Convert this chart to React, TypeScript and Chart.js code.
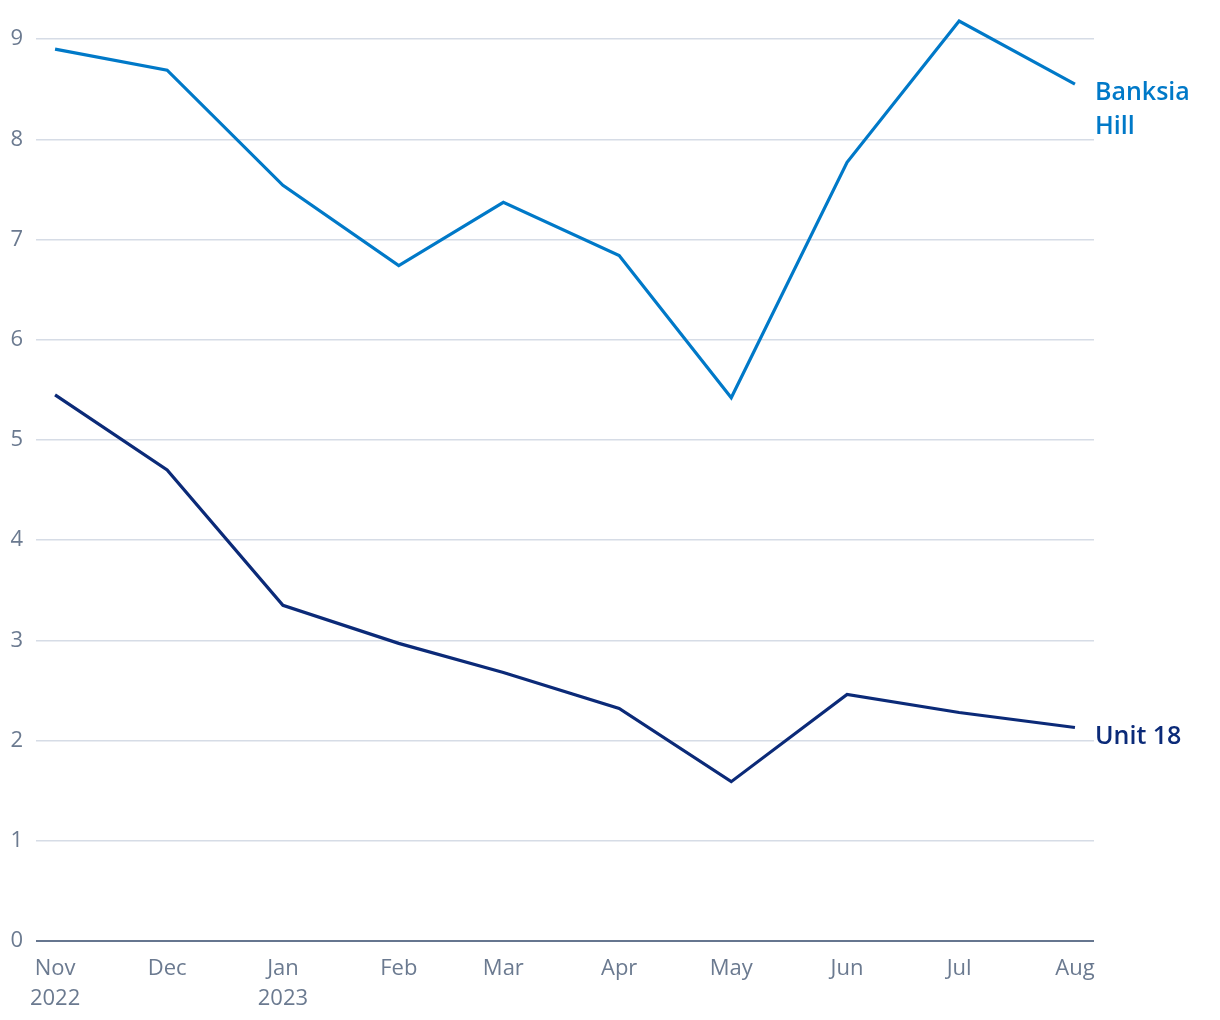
import React, { useEffect, useRef } from "react";
import { Chart, registerables } from "chart.js";

Chart.register(...registerables);

const monthDates = [
  "2022-11-01", "2022-12-01", "2023-01-01", "2023-02-01", "2023-03-01",
  "2023-04-01", "2023-05-01", "2023-06-01", "2023-07-01", "2023-08-01",
];
const monthLabels = ["Nov", "Dec", "Jan", "Feb", "Mar", "Apr", "May", "Jun", "Jul", "Aug"];
const yearLabels = ["2022", "", "2023", "", "", "", "", "", "", ""];
const banksiaHill = [8.9, 8.69, 7.54, 6.74, 7.37, 6.84, 5.42, 7.77, 9.18, 8.55];
const unit18 = [5.45, 4.7, 3.35, 2.97, 2.68, 2.32, 1.59, 2.46, 2.28, 2.13];
const yTicks = [0, 1, 2, 3, 4, 5, 6, 7, 8, 9];
const seriesNames = [["Banksia", "Hill"], ["Unit 18"]];

const BLUE = "#0079c8";
const NAVY = "#0b2a78";
const TICK = "#6b7a90";
const DAY = 86400000;

const toMs = (s: string) => Date.parse(s + "T00:00:00Z");

export default function App() {
  const ref = useRef<HTMLCanvasElement>(null);
  useEffect(() => {
    if (!ref.current) return;
    const xs = monthDates.map(toMs);
    const endLabels = {
      id: "endLabels",
      afterDatasetsDraw(chart: any) {
        const ctx = chart.ctx;
        ctx.save();
        chart.data.datasets.forEach((ds: any, i: number) => {
          const meta = chart.getDatasetMeta(i);
          const last = meta.data[meta.data.length - 1];
          const names = seriesNames[i];
          ctx.font = "600 25px 'Open Sans', sans-serif";
          ctx.fillStyle = ds.borderColor;
          ctx.textAlign = "left";
          ctx.textBaseline = "middle";
          names.forEach((n: string, k: number) => {
            ctx.fillText(n, chart.chartArea.right + 1, last.y + 9 + k * 34);
          });
        });
        ctx.restore();
      },
    };
    const chart = new Chart(ref.current, {
      type: "line",
      data: {
        datasets: [
          {
            label: "Banksia Hill",
            data: xs.map((x, i) => ({ x, y: banksiaHill[i] })),
            borderColor: BLUE,
            borderWidth: 3.2,
            pointRadius: 0,
            tension: 0,
            borderJoinStyle: "miter",
          },
          {
            label: "Unit 18",
            data: xs.map((x, i) => ({ x, y: unit18[i] })),
            borderColor: NAVY,
            borderWidth: 3.2,
            pointRadius: 0,
            tension: 0,
            borderJoinStyle: "miter",
          },
        ],
      },
      options: {
        animation: false,
        responsive: true,
        maintainAspectRatio: false,
        layout: { padding: { top: 11, right: 118, left: 0, bottom: 0 } },
        plugins: { legend: { display: false }, tooltip: { enabled: false } },
        scales: {
          x: {
            type: "linear",
            min: xs[0] - 5.1 * DAY,
            max: xs[xs.length - 1] + 5.1 * DAY,
            afterBuildTicks: (scale: any) => {
              scale.ticks = xs.map((v) => ({ value: v }));
            },
            afterFit: (scale: any) => {
              scale.height = 71;
              scale.paddingLeft = 0;
              scale.paddingRight = 0;
            },
            grid: { display: false, drawTicks: false },
            border: { display: false },
            ticks: {
              autoSkip: false,
              maxRotation: 0,
              padding: 13,
              color: TICK,
              font: { family: "'Open Sans', sans-serif", size: 22, lineHeight: 30 / 22 },
              callback: (v: any) => {
                const i = xs.indexOf(Number(v));
                if (i < 0) return "";
                return yearLabels[i] ? [monthLabels[i], yearLabels[i]] : monthLabels[i];
              },
            },
          },
          y: {
            min: 0,
            max: 9.2,
            afterBuildTicks: (scale: any) => {
              scale.ticks = yTicks.map((v) => ({ value: v }));
            },
            afterFit: (scale: any) => {
              scale.width = 28;
              scale.paddingTop = 0;
              scale.paddingBottom = 0;
            },
            grid: {
              drawTicks: false,
              color: (c: any) => (c.tick && c.tick.value === 0 ? "#66768f" : "#d6dce6"),
              lineWidth: (c: any) => (c.tick && c.tick.value === 0 ? 2 : 1.5),
            },
            border: { display: false },
            ticks: {
              padding: 13,
              color: TICK,
              font: { family: "'Open Sans', sans-serif", size: 22 },
              callback: (v: any) => String(v),
            },
          },
        },
      },
      plugins: [endLabels],
    } as any);
    return () => chart.destroy();
  }, []);
  return (
    <div style={{ width: 1204, height: 1004, position: "relative" }}>
      <canvas ref={ref} />
    </div>
  );
}
